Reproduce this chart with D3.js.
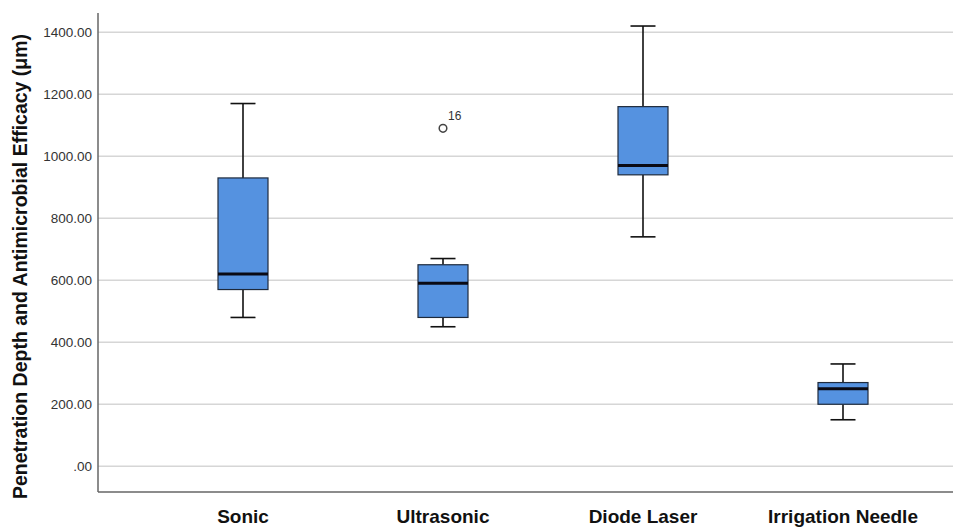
<!DOCTYPE html>
<html>
<head>
<meta charset="utf-8">
<script src="https://cdn.jsdelivr.net/npm/d3@7"></script>
<style>
  html, body { margin: 0; padding: 0; background: #fff; }
  svg { display: block; }
</style>
</head>
<body>
<svg id="chart" width="953" height="527"></svg>
<script>
const categories = ["Sonic", "Ultrasonic", "Diode Laser", "Irrigation Needle"];
const whiskerLow = [480, 450, 740, 150];
const q1 = [570, 480, 940, 200];
const median = [620, 590, 970, 250];
const q3 = [930, 650, 1160, 270];
const whiskerHigh = [1170, 670, 1420, 330];
const outliers = [{ cat: "Ultrasonic", value: 1090, label: "16" }];
const yTicks = [0, 200, 400, 600, 800, 1000, 1200, 1400];
const yTitle = "Penetration Depth and Antimicrobial Efficacy (μm)";

const svg = d3.select("#chart");
const mLeft = 98, mRight = 953, mTop = 13, mBottom = 492;

const y = d3.scaleLinear().domain([-83, 1462]).range([mBottom, mTop]);
const x = d3.scaleBand().domain(categories).range([143, 943]).padding(0);
const cx = c => x(c) + x.bandwidth() / 2;
const boxW = 50, capW = 25;

// gridlines
svg.append("g").selectAll("line").data(yTicks).join("line")
  .attr("x1", mLeft).attr("x2", mRight)
  .attr("y1", d => y(d)).attr("y2", d => y(d))
  .attr("stroke", "#d6d6d6").attr("stroke-width", 1.6);

// axes
const yAxis = d3.axisLeft(y).tickValues(yTicks).tickSize(0).tickPadding(6)
  .tickFormat(d => d === 0 ? ".00" : d3.format(".2f")(d));
const gy = svg.append("g").attr("transform", `translate(${mLeft},0)`).call(yAxis);
gy.select(".domain").remove();
gy.selectAll("text").attr("font-family", "Liberation Sans, Arial, sans-serif")
  .attr("font-size", 13.5).attr("fill", "#333");

const xAxis = d3.axisBottom(x).tickSize(0).tickPadding(18);
const gx = svg.append("g").attr("transform", `translate(0,${mBottom})`).call(xAxis);
gx.select(".domain").remove();
gx.selectAll("text").attr("font-family", "Liberation Sans, Arial, sans-serif")
  .attr("font-size", 19).attr("font-weight", "bold").attr("fill", "#111");

// axis lines
svg.append("line").attr("x1", mLeft).attr("x2", mLeft).attr("y1", mTop).attr("y2", mBottom)
  .attr("stroke", "#666").attr("stroke-width", 1.5);
svg.append("line").attr("x1", mLeft).attr("x2", mRight).attr("y1", mBottom).attr("y2", mBottom)
  .attr("stroke", "#666").attr("stroke-width", 1.5);

// y title
svg.append("text")
  .attr("transform", `translate(27,${(33 + 500) / 2}) rotate(-90)`)
  .attr("text-anchor", "middle")
  .attr("font-family", "Liberation Sans, Arial, sans-serif")
  .attr("font-size", 19.5).attr("font-weight", "bold").attr("fill", "#111")
  .text(yTitle);

// boxes
const data = categories.map((c, i) => ({
  c, lo: whiskerLow[i], q1: q1[i], med: median[i], q3: q3[i], hi: whiskerHigh[i]
}));
const g = svg.append("g").selectAll("g").data(data).join("g");

g.append("line").attr("x1", d => cx(d.c)).attr("x2", d => cx(d.c))
  .attr("y1", d => y(d.hi)).attr("y2", d => y(d.q3)).attr("stroke", "#111").attr("stroke-width", 1.6);
g.append("line").attr("x1", d => cx(d.c)).attr("x2", d => cx(d.c))
  .attr("y1", d => y(d.q1)).attr("y2", d => y(d.lo)).attr("stroke", "#111").attr("stroke-width", 1.6);
g.append("line").attr("x1", d => cx(d.c) - capW / 2).attr("x2", d => cx(d.c) + capW / 2)
  .attr("y1", d => y(d.hi)).attr("y2", d => y(d.hi)).attr("stroke", "#111").attr("stroke-width", 1.6);
g.append("line").attr("x1", d => cx(d.c) - capW / 2).attr("x2", d => cx(d.c) + capW / 2)
  .attr("y1", d => y(d.lo)).attr("y2", d => y(d.lo)).attr("stroke", "#111").attr("stroke-width", 1.6);
g.append("rect").attr("x", d => cx(d.c) - boxW / 2).attr("width", boxW)
  .attr("y", d => y(d.q3)).attr("height", d => y(d.q1) - y(d.q3))
  .attr("fill", "#5592e0").attr("stroke", "#1e2a3c").attr("stroke-width", 1.2);
g.append("line").attr("x1", d => cx(d.c) - boxW / 2).attr("x2", d => cx(d.c) + boxW / 2)
  .attr("y1", d => y(d.med)).attr("y2", d => y(d.med)).attr("stroke", "#0a0a14").attr("stroke-width", 3);

// outliers
const og = svg.append("g").selectAll("g").data(outliers).join("g");
og.append("circle").attr("cx", d => cx(d.cat)).attr("cy", d => y(d.value)).attr("r", 3.8)
  .attr("fill", "none").attr("stroke", "#444").attr("stroke-width", 1.5);
og.append("text").attr("x", d => cx(d.cat) + 5).attr("y", d => y(d.value) - 8)
  .attr("font-family", "Liberation Sans, Arial, sans-serif").attr("font-size", 12)
  .attr("fill", "#333").text(d => d.label);
</script>
</body>
</html>
